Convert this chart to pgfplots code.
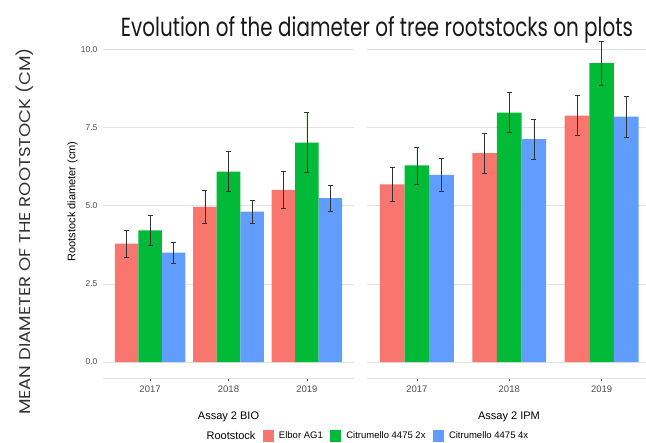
\documentclass[border=0pt]{standalone}
\usepackage{fontspec}
\setmainfont{Liberation Sans}
\newfontfamily\titlefont{Poppins}
\usepackage{graphicx}
\usepackage{pgfplots}
\pgfplotsset{compat=1.18}
\definecolor{cRed}{HTML}{F8766D}
\definecolor{cGreen}{HTML}{00BA38}
\definecolor{cBlue}{HTML}{619CFF}
\definecolor{gridc}{HTML}{E3E3E3}
\definecolor{tickc}{HTML}{4D4D4D}
\definecolor{errc}{HTML}{333333}
\pgfplotsset{
  panel/.style={
    scale only axis, height=353pt,
    ymin=-0.51, ymax=10.78,
    ytick={0,2.5,5,7.5,10},
    ymajorgrids, major grid style={gridc, line width=0.7pt},
    axis x line*=bottom, axis y line*=left,
    y axis line style={draw=none},
    x axis line style={gridc, line width=0.8pt, -},
    xtick={0,1,2}, xticklabels={2017,2018,2019},
    tick align=outside, major tick length=3pt,
    xtick style={tickc, line width=0.5pt},
    ytick style={draw=none},
    xticklabel style={font=\fontsize{9.5}{10}\selectfont, text=tickc, yshift=-1pt},
    yticklabel style={font=\fontsize{8.5}{9}\selectfont, text=tickc, xshift=1pt},
    xlabel style={font=\fontsize{11}{12}\selectfont},
    ylabel style={font=\fontsize{11}{12}\selectfont},
    clip=false,
  },
  eb/.style={error bars/.cd, y dir=both, y explicit,
    error bar style={draw=errc, line width=0.5pt},
    error mark options={rotate=90, mark size=2.5pt, draw=errc, line width=0.5pt}},
}
\begin{document}
\begin{tikzpicture}[x=1pt,y=1pt]
\path[use as bounding box] (0,0) rectangle (646,443);
% left panel
\begin{axis}[panel, at={(103pt,65pt)}, anchor=south west, width=251pt,
  xmin=-0.6, xmax=2.6,
  yticklabels={0.0,2.5,5.0,7.5,10.0},
  ylabel={Rootstock diameter (cm)},
  ylabel style={at={(axis description cs:-0.1215,0.5)}, anchor=center, rotate=0},
  xlabel={Assay 2 BIO},
  xlabel style={at={(axis description cs:0.5,-0.1105)}, anchor=center},
  legend style={draw=none, fill=none, inner sep=0pt,
    at={(axis description cs:0.392,-0.1643)}, anchor=west,
    font=\fontsize{9.5}{10}\selectfont, legend columns=-1,
    /tikz/every odd column/.append style={column sep=3pt},
    /tikz/every even column/.append style={column sep=5pt}},
  legend cell align=left,
]
\addlegendimage{empty legend}
\addlegendentry{\fontsize{11}{12}\selectfont Rootstock}
\addplot[ybar, bar width=0.3, bar shift=0pt, fill=cRed, draw=none,
  legend image code/.code={\fill[cRed] (0pt,-6pt) rectangle (11.5pt,6pt);}, eb]
  coordinates {(-0.3,3.79) +- (0,0.44) (0.7,4.96) +- (0,0.52) (1.7,5.51) +- (0,0.59)};
\addlegendentry{Elbor AG1}
\addplot[ybar, bar width=0.3, bar shift=0pt, fill=cGreen, draw=none,
  legend image code/.code={\fill[cGreen] (0pt,-6pt) rectangle (11.5pt,6pt);}, eb]
  coordinates {(0,4.21) +- (0,0.47) (1,6.09) +- (0,0.64) (2,7.02) +- (0,0.96)};
\addlegendentry{Citrumello 4475 2x}
\addplot[ybar, bar width=0.3, bar shift=0pt, fill=cBlue, draw=none,
  legend image code/.code={\fill[cBlue] (0pt,-6pt) rectangle (11.5pt,6pt);}, eb]
  coordinates {(0.3,3.50) +- (0,0.33) (1.3,4.81) +- (0,0.37) (2.3,5.24) +- (0,0.43)};
\addlegendentry{Citrumello 4475 4x}
\end{axis}
% right panel
\begin{axis}[panel, at={(367pt,65pt)}, anchor=south west, width=279pt,
  xmin=-0.54, xmax=2.48,
  yticklabels={},
  xlabel={Assay 2 IPM},
  xlabel style={at={(axis description cs:0.509,-0.1105)}, anchor=center},
]
\addplot[ybar, bar width=0.2667, bar shift=0pt, fill=cRed, draw=none, eb]
  coordinates {(-0.2667,5.68) +- (0,0.55) (0.7333,6.68) +- (0,0.63) (1.7333,7.88) +- (0,0.64)};
\addplot[ybar, bar width=0.2667, bar shift=0pt, fill=cGreen, draw=none, eb]
  coordinates {(0,6.29) +- (0,0.59) (1,7.98) +- (0,0.64) (2,9.56) +- (0,0.71)};
\addplot[ybar, bar width=0.2667, bar shift=0pt, fill=cBlue, draw=none, eb]
  coordinates {(0.2667,5.99) +- (0,0.52) (1.2667,7.13) +- (0,0.63) (2.2667,7.85) +- (0,0.65)};
\end{axis}
% title and outer label
\node[anchor=base, inner sep=0pt, text=black!90] at (377,406.4)
  {\resizebox{512pt}{20pt}{\titlefont Evolution of the diameter of tree rootstocks on plots}};
\node[rotate=90, inner sep=0pt, text=black!80] at (24.5,211.5)
  {\resizebox{367pt}{14.5pt}{\titlefont MEAN DIAMETER OF THE ROOTSTOCK (CM)}};
\end{tikzpicture}
\end{document}
